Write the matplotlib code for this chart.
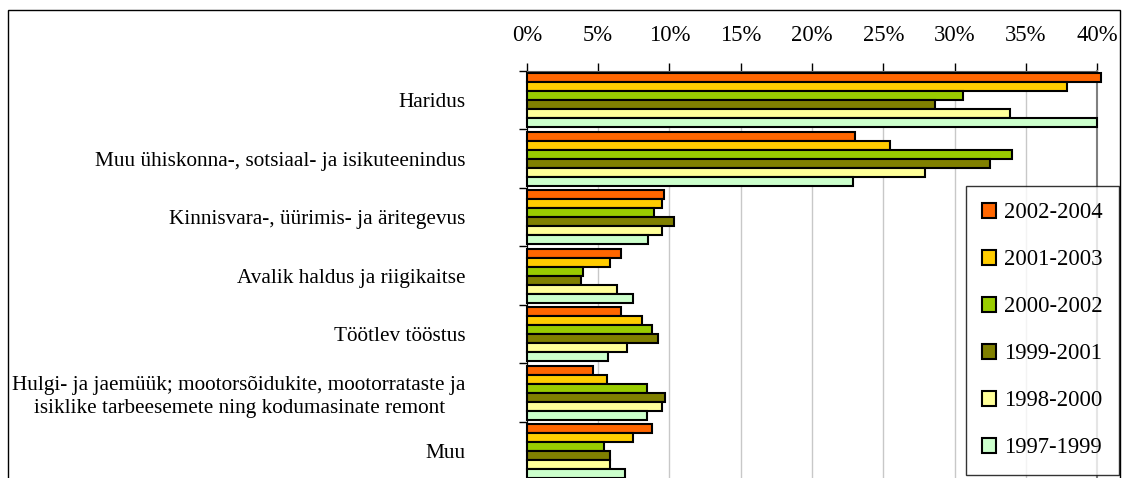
import numpy as np
import matplotlib
matplotlib.use("Agg")
import matplotlib.pyplot as plt
from matplotlib.patches import Rectangle

plt.rcParams['font.family'] = ['Liberation Serif', 'DejaVu Serif']

categories = ["Haridus",
              "Muu ühiskonna-, sotsiaal- ja isikuteenindus",
              "Kinnisvara-, üürimis- ja äritegevus",
              "Avalik haldus ja riigikaitse",
              "Töötlev tööstus",
              "Hulgi- ja jaemüük; mootorsõidukite, mootorrataste ja\nisiklike tarbeesemete ning kodumasinate remont",
              "Muu"]

periods = ["2002-2004", "2001-2003", "2000-2002", "1999-2001", "1998-2000", "1997-1999"]

# shares in %, one list per period, same order as categories
p2002_2004 = [40.3, 23.0, 9.6, 6.6, 6.6, 4.6, 8.8]
p2001_2003 = [37.9, 25.5, 9.5, 5.8, 8.1, 5.6, 7.45]
p2000_2002 = [30.6, 34.0, 8.9, 3.9, 8.8, 8.4, 5.4]
p1999_2001 = [28.6, 32.5, 10.3, 3.8, 9.2, 9.7, 5.8]
p1998_2000 = [33.9, 27.9, 9.5, 6.35, 7.0, 9.45, 5.8]
p1997_1999 = [40.0, 22.9, 8.5, 7.45, 5.7, 8.4, 6.9]

series = [p2002_2004, p2001_2003, p2000_2002, p1999_2001, p1998_2000, p1997_1999]
colors = ["#FF6600", "#FFCC00", "#99CC00", "#808000", "#FFFF99", "#CCFFCC"]

xticks = [0, 5, 10, 15, 20, 25, 30, 35, 40]
fs = 15.3
fs_num = 16.3

fig = plt.figure(figsize=(11.27, 4.78), dpi=100)
ax = fig.add_axes([0.4676, -0.0052, 0.5058, 0.8567])

y = np.arange(len(categories))
h = 0.154
for j, (vals, col, lab) in enumerate(zip(series, colors, periods)):
    ax.barh(y + (j - 2.5) * h, vals, height=h, color=col, edgecolor="black",
            linewidth=1.5, label=lab, clip_on=False, zorder=3)

ax.set_xlim(0, 40)
ax.set_ylim(len(categories) - 0.5, -0.5)

ax.xaxis.tick_top()
ax.set_xticks(xticks)
ax.set_xticklabels([f"{t}%" for t in xticks], fontsize=fs_num)
ax.tick_params(axis="x", direction="out", length=6, width=1, pad=12)
ax.grid(axis="x", color="#c8c8c8", linewidth=1, zorder=0)

# category boundaries as major ticks, labels at minor ticks
ax.set_yticks(np.arange(len(categories) + 1) - 0.5)
ax.set_yticklabels([])
ax.tick_params(axis="y", which="major", length=6, width=1)
ax.set_yticks(y, minor=True)
ax.set_yticklabels(categories, minor=True, fontsize=fs)
ax.tick_params(axis="y", which="minor", length=0, pad=44)
for t in ax.get_yticklabels(minor=True):
    t.set_multialignment("center")
    t.set_linespacing(1.3)

ax.spines["bottom"].set_visible(False)
ax.spines["right"].set_color("#808080")
ax.spines["right"].set_linewidth(1.5)
ax.spines["top"].set_color("#606060")

leg = ax.legend(loc="upper left", bbox_to_anchor=(966 / 1127, 1 - 186 / 478),
                bbox_transform=fig.transFigure, fontsize=fs_num, frameon=True,
                fancybox=False, edgecolor="black", labelspacing=1.15,
                handlelength=0.62, handleheight=0.62, handletextpad=0.33,
                borderpad=0.72, borderaxespad=0)
leg.get_frame().set_linewidth(1)

# outer chart border
fig.patches.append(Rectangle((8 / 1127, -0.05), 1112 / 1127, 1.05 - 10 / 478,
                             transform=fig.transFigure, fill=False,
                             edgecolor="black", linewidth=1))

fig.savefig("out.png", dpi=100)
